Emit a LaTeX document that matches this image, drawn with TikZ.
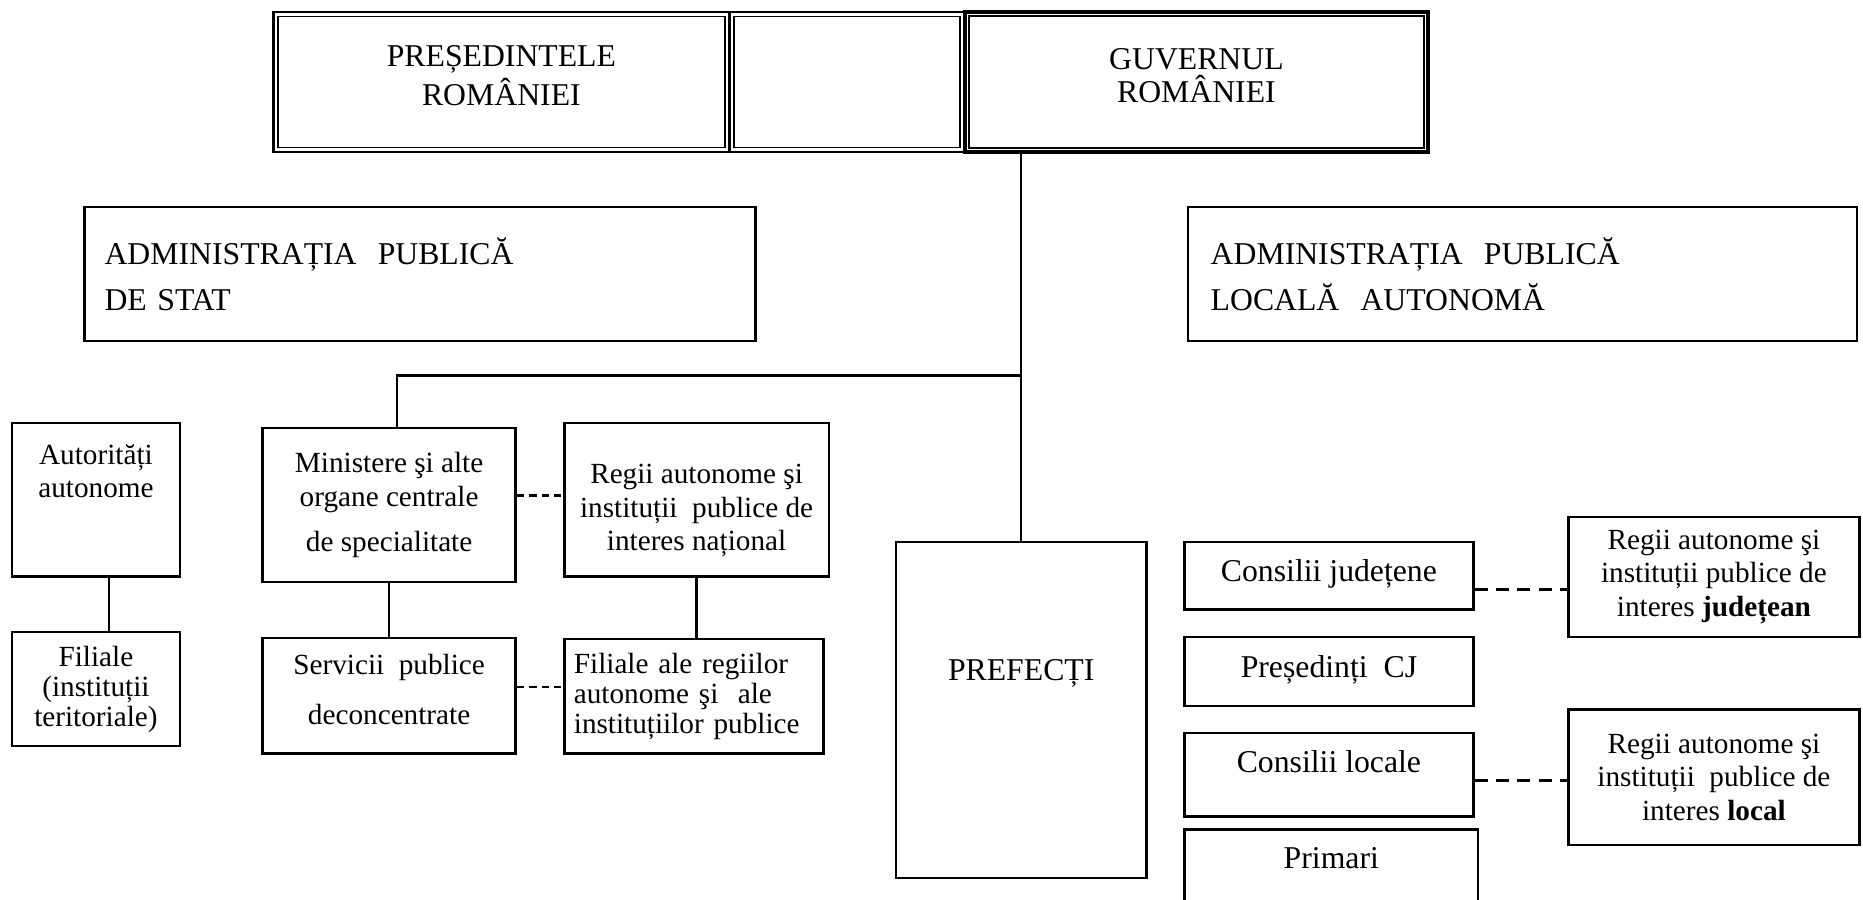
\documentclass[tikz,border=0pt]{standalone}
\usepackage{fontspec}
\setmainfont{Liberation Serif}
\newcommand{\smalltxt}{\fontsize{7}{8}\selectfont}
\newcommand{\tighttxt}{\fontsize{7}{7.2}\selectfont}
\newcommand{\bigtxt}{\fontsize{7.6}{8}\selectfont}
\newcommand{\admtxt}{\fontsize{7.6}{11}\selectfont}
\tikzset{
  box/.style={draw=black, line width=0.6pt, inner sep=0pt, align=center, font=\smalltxt},
  bigbox/.style={box, font=\bigtxt},
  admbox/.style={box, align=left, font=\admtxt},
  dbl/.style={box, font=\bigtxt},
  dblin/.style={draw=black, line width=0.35pt},
  link/.style={draw=black, line width=0.6pt},
  thinlink/.style={draw=black, line width=0.4pt},
  dlink/.style={draw=black, line width=0.6pt, dash pattern=on 0.6mm off 0.45mm},
  dlinkw/.style={draw=black, line width=0.6pt, dash pattern=on 1.1mm off 0.7mm},
}

\begin{document}
\begin{tikzpicture}[x=0.1mm, y=-0.1mm]
  \useasboundingbox (0,0) rectangle (1568,757);

  % top row
  \node[dbl, minimum width=38.4mm, minimum height=11.8mm] (pre) at (422,69) {PREȘEDINTELE\\ROMÂNIEI\\[-4.9pt]\mbox{}};
  \node[dbl, minimum width=19.8mm, minimum height=11.8mm] (mid) at (713,69) {};
  \node[dbl, line width=0.9pt, minimum width=39mm, minimum height=11.8mm] (guv) at (1007,69) {GUVERNUL\\ROMÂNIEI\\[-4.9pt]\mbox{}};
  \draw[dblin] ([shift={(5,5)}]pre.north west) rectangle ([shift={(-5,-5)}]pre.south east);
  \draw[dblin] ([shift={(5,5)}]mid.north west) rectangle ([shift={(-5,-5)}]mid.south east);
  \draw[dblin] ([shift={(5,5)}]guv.north west) rectangle ([shift={(-5,-5)}]guv.south east);

  % the two administrations
  \node[admbox, minimum height=11.3mm, text width=53.1mm, inner xsep=1.7mm] (sta) at (353.5,230.5) {ADMINISTRAȚIA~ PUBLICĂ\\DE STAT};
  \node[admbox, minimum height=11.3mm, text width=52.5mm, inner xsep=1.9mm] (loc) at (1281.5,230.5) {ADMINISTRAȚIA~ PUBLICĂ\\LOCALĂ~ AUTONOMĂ};

  % state branch
  \node[box, minimum width=14.15mm, minimum height=12.9mm] (aut) at (80.75,420.5) {Autorități\\autonome\\[2mm]\mbox{}};
  \node[box, font=\tighttxt, minimum width=14.15mm, minimum height=9.6mm] (fil) at (80.75,580) {Filiale\\(instituții\\teritoriale)};
  \node[box, minimum width=21.3mm, minimum height=13mm] (min) at (327.5,425) {Ministere şi alte\\organe centrale\\[1mm]de specialitate};
  \node[box, minimum width=22.26mm, minimum height=12.9mm] (rn) at (586.3,420.5) {\mbox{}\\[1.9pt]Regii autonome şi\\instituții~ publice de\\interes național};
  \node[box, minimum width=21.3mm, minimum height=9.7mm] (serv) at (327.5,585.5) {Servicii~ publice\\[1.4mm]deconcentrate\\[-5.2pt]\mbox{}};
  \node[box, font=\tighttxt, align=left, text width=20.2mm, inner xsep=0.8mm, minimum height=9.6mm] (fr) at (584,586) {Filiale ale regiilor\\autonome şi~ ale\\instituțiilor publice};

  % prefects and local branch
  \node[bigbox, minimum width=21.1mm, text height=11.7mm, text depth=16.6mm] (pref) at (859.5,597.5) {PREFECȚI};
  \node[bigbox, minimum width=24.3mm, text height=3.3mm, text depth=2.4mm] (cj) at (1118.5,484.5) {Consilii județene};
  \node[bigbox, minimum width=24.3mm, text height=3.4mm, text depth=2.4mm] (pc) at (1118.5,565) {Președinți~ CJ};
  \node[bigbox, minimum width=24.3mm, text height=3.3mm, text depth=3.7mm] (cl) at (1118.5,652) {Consilii locale};
  \node[bigbox, minimum width=24.7mm, text height=3.3mm, text depth=5.9mm] (pri) at (1120.5,744) {Primari};
  \node[box, minimum width=24.5mm, minimum height=10.1mm] (rj) at (1442.5,485.5) {Regii autonome şi\\instituții publice de\\interes \textbf{județean}};
  \node[box, minimum width=24.5mm, minimum height=11.4mm] (rl) at (1442.5,654) {Regii autonome şi\\instituții~ publice de\\interes \textbf{local}};

  % connectors
  \coordinate (jn) at (859.5,316);
  \draw[thinlink] (guv.south -| pref.north) -- (pref.north);
  \draw[link] (jn) -| ([xshift=0.65mm]min.north);
  \draw[link] ([xshift=1.1mm]aut.south) -- ([xshift=1.1mm]aut.south |- fil.north);
  \draw[link] (min.south) -- (serv.north);
  \draw[link] (rn.south) -- (rn.south |- fr.north);
  \draw[dlink] ([yshift=0.8mm]min.east) -- ([yshift=0.8mm]min.east -| rn.west);
  \draw[dlink] ([yshift=0.75mm]serv.east) -- ([yshift=0.75mm]serv.east -| fr.west);
  \draw[dlinkw] ([yshift=-1.15mm]cj.east) -- ([yshift=-1.15mm]cj.east -| rj.west);
  \draw[dlinkw] ([yshift=-0.5mm]cl.east) -- ([yshift=-0.5mm]cl.east -| rl.west);
\end{tikzpicture}
\end{document}
